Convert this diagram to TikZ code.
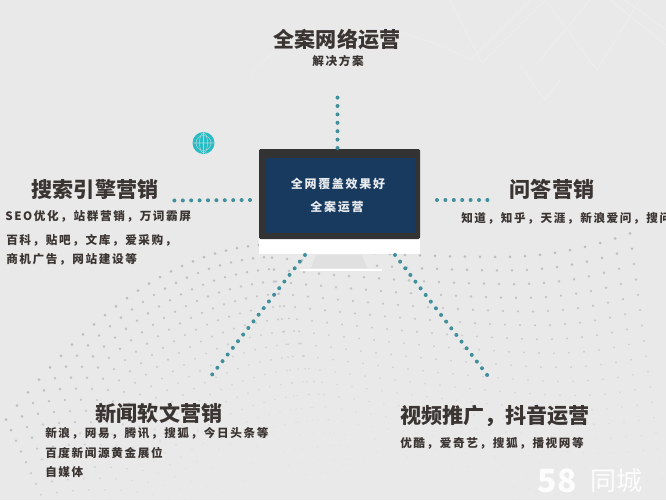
\documentclass[tikz,border=0pt]{standalone}
\usepackage{fontspec}
\setmainfont{Noto Sans CJK SC}
\newfontfamily\spacedcjk[LetterSpace=14]{Noto Sans CJK SC}
\usetikzlibrary{calc}
\definecolor{bgc}{HTML}{E9E9E9}
\definecolor{tealdot}{HTML}{3F8F9C}
\definecolor{navy}{HTML}{173A5E}
\definecolor{frame}{HTML}{333333}
\definecolor{inkc}{HTML}{3A3432}
\definecolor{wavedot}{HTML}{B4B7B8}
\definecolor{faint}{HTML}{EDEDEB}
\tikzset{
  head/.style={font=\bfseries\fontsize{15.8}{17}\selectfont,text=inkc,inner sep=0pt,anchor=center},
  sub/.style={font=\spacedcjk\bfseries\fontsize{8.7}{10}\selectfont,text=inkc,inner sep=0pt,anchor=west},
  subc/.style={font=\spacedcjk\bfseries\fontsize{8.7}{10}\selectfont,text=inkc,inner sep=0pt},
  screen/.style={font=\spacedcjk\bfseries\fontsize{9}{10}\selectfont,text=white!90!navy,inner sep=0pt},
  link/.style={line width=3pt,tealdot,line cap=round,dash pattern=on 0pt off 6.3pt}
}
\pgfmathdeclarefunction{wavetop}{1}{%
  \pgfmathparse{#1<2.6 ? 245+23.76*(2.6-#1)*(2.6-#1)+8.38*(2.6-#1) :
    (#1<5 ? 245+12*sin((#1-2.6)*37.5) : 257-14*(#1-5)*(#1-5))}%
}
\begin{document}
\begin{tikzpicture}[x=0.75pt,y=-0.75pt]
\useasboundingbox (0,0) rectangle (666,500);
\fill[bgc] (0,0) rectangle (666,500);
\begin{scope}
\clip (0,0) rectangle (666,500);
\draw[faint,line width=0.8pt] (450,0) -- (482,63) -- (545,0) -- (597,70) -- (640,0);
\draw[faint,line width=0.8pt] (530,0) -- (470,60) (590,0) -- (540,60) (625,0) -- (666,30) (610,0) -- (666,45);
\draw[faint,line width=0.8pt] (520,65) -- (545,100) -- (560,80);
\draw[faint,line width=0.6pt] (250,75) .. controls (290,25) and (380,10) .. (470,60);
% dotted wave field
\foreach \r in {0,...,18}{
  \pgfmathsetmacro{\op}{max(0.12,0.85-\r*0.05)}
  \pgfmathsetmacro{\rad}{max(0.6,1.5-\r*0.05)}
  \foreach \xi in {0,...,48}{
    \pgfmathsetmacro{\xx}{\xi<24 ? 6+\xi*11+\r*5 : 270+(\xi-24)*15+\r*2}
    \pgfmathsetmacro{\yy}{wavetop((\xx-\r*5)/100)+\r*(10.5+0.006*\xx)}
    \fill[wavedot,opacity=\op] (\xx,\yy) circle[radius=\rad];
  }
}
\end{scope}
% globe
\node[circle,fill=tealdot!60!cyan,minimum size=16.5pt,inner sep=0pt] (globe) at (203.5,143) {};
\draw[white!60!tealdot,line width=0.4pt] (globe.center) circle[radius=7.5] (globe.west) -- (globe.east) (globe.north) -- (globe.south);
\draw[white!60!tealdot,line width=0.4pt] (globe.center) ellipse[x radius=4,y radius=10];
% monitor
\fill[white] (259,238) rectangle (420,254);
\fill[frame,rounded corners=1pt] (259,149) rectangle (420,239);
\fill[navy] (266,158) rectangle (415,233);
\path[fill=black!12] (316,255) -- (362,255) -- (367,268) -- (311,268) -- cycle;
\draw[white,line width=0.8pt] (300,270) -- (382,270);
\coordinate (monT) at (337.5,148);
\coordinate (monL) at (250,200);
\coordinate (monR) at (437,200);
\coordinate (monBL) at (305,255);
\coordinate (monBR) at (395,255);
\node[screen] (s1) at (338,184) {全网覆盖效果好};
\node[screen] (s2) at (337,207) {全案运营};
% headings
\node[head] (top) at (337,40) {全案网络运营};
\node[subc] (topsub) at (338,61) {解决方案};
\node[head] (seo) at (95,189) {搜索引擎营销};
\node[sub] (seo1) at (5,216) {SEO优化，站群营销，万词霸屏};
\node[sub] (seo2) at (6,240) {百科，贴吧，文库，爱采购，};
\node[sub] (seo3) at (6,259) {商机广告，网站建设等};
\node[head] (qa) at (552,189) {问答营销};
\node[sub] (qa1) at (461,218) {知道，知乎，天涯，新浪爱问，搜问};
\node[head] (news) at (159,413) {新闻软文营销};
\node[sub] (n1) at (45,433) {新浪，网易，腾讯，搜狐，今日头条等};
\node[sub] (n2) at (45,453) {百度新闻源黄金展位};
\node[sub] (n3) at (45,472) {自媒体};
\node[head] (vid) at (495,416) {视频推广，抖音运营};
\node[sub] (v1) at (400,443) {优酷，爱奇艺，搜狐，播视网等};
% connector ends
\coordinate (topE) at (337.5,93);
\coordinate (seoE) at (174,200.5);
\coordinate (qaE) at (495,200);
\coordinate (newsE) at (211,376);
\coordinate (vidE) at (491,380);
\draw[link] (monT) -- (topE);
\draw[link] (monL) -- (seoE);
\draw[link] (monR) -- (qaE);
\draw[link] (monBL) -- (newsE);
\draw[link] (monBR) -- (vidE);
% watermark
\node[font=\bfseries\fontsize{24}{24}\selectfont,text=white!85!bgc,inner sep=0pt] (w1) at (557,481) {58};
\node[font=\fontsize{19.5}{20}\selectfont,text=white!85!bgc,inner sep=0pt] (w2) at (616,481) {同城};
\end{tikzpicture}
\end{document}
